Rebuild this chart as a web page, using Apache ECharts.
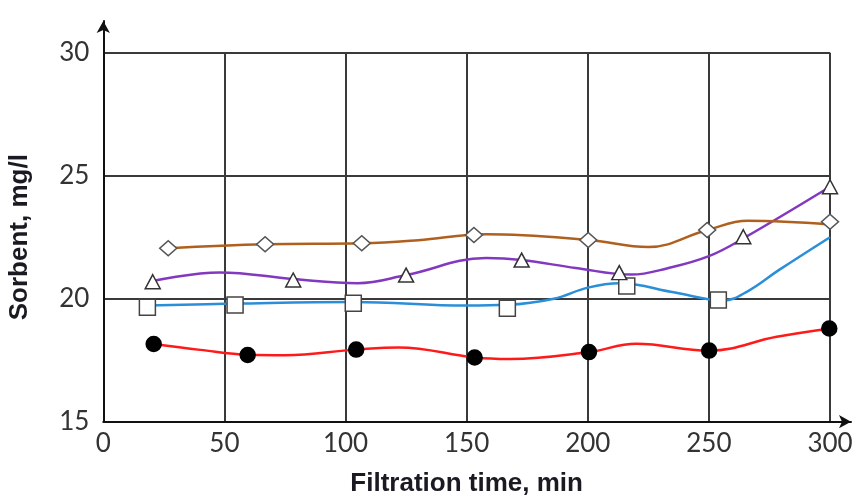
<!DOCTYPE html>
<html><head><meta charset="utf-8">
<script src="https://cdn.jsdelivr.net/npm/echarts@6/dist/echarts.min.js"></script>
<style>html,body{margin:0;padding:0;background:#fff}#c{width:857px;height:497px}</style>
</head><body><div id="c"></div>
<script>
// Measured markers
const circleX = [20.8, 59.6, 104.4, 153.3, 200.5, 250.1, 299.7];
const circleY = [18.16, 17.71, 17.93, 17.61, 17.83, 17.89, 18.79];
const squareX = [18.2, 54.4, 103.2, 166.8, 216.1, 253.9, 300.7];
const squareY = [19.65, 19.74, 19.81, 19.61, 20.52, 19.95, 22.59];
const triangleX = [20.4, 78.4, 125, 172.7, 213, 264.2, 300];
const triangleY = [20.69, 20.76, 20.96, 21.57, 21.06, 22.52, 24.55];
const diamondX = [26.8, 66.8, 106.7, 153.0, 200.2, 249.3, 300];
const diamondY = [22.05, 22.21, 22.25, 22.59, 22.39, 22.79, 23.13];
// Fitted curves
const redCurveX = [20.8, 40, 60, 75, 104.4, 122, 153.3, 168, 200.5, 220, 250, 278, 300];
const redCurveY = [18.16, 17.92, 17.72, 17.7, 17.93, 18.02, 17.61, 17.55, 17.83, 18.17, 17.89, 18.45, 18.79];
const blueCurveX = [18.2, 54.4, 103.2, 150, 166.8, 186, 200, 213, 236, 256, 266, 279, 300];
const blueCurveY = [19.72, 19.8, 19.87, 19.72, 19.75, 20.0, 20.45, 20.63, 20.25, 19.93, 20.3, 21.17, 22.5];
const purpleCurveX = [20.4, 48, 78.4, 105, 125, 158, 172.7, 195, 218, 233, 250, 264.2, 300];
const purpleCurveY = [20.72, 21.07, 20.8, 20.63, 20.96, 21.65, 21.57, 21.25, 20.98, 21.24, 21.73, 22.45, 24.55];
const brownCurveX = [26.8, 67, 107, 130, 158, 200.2, 225, 249.3, 266, 300];
const brownCurveY = [22.05, 22.21, 22.25, 22.38, 22.62, 22.39, 22.1, 22.79, 23.17, 23.02];
const xTicks = [0, 50, 100, 150, 200, 250, 300];
const yTicks = [15, 20, 25, 30];
const xTitle = 'Filtration time, min';
const yTitle = 'Sorbent, mg/l';

const zip = (a, b) => a.map((v, i) => [v, b[i]]);
const curve = (xs, ys, color) => ({
  type: 'line', xAxisIndex: 0, yAxisIndex: 0, smooth: 0.4, showSymbol: false, silent: true,
  data: zip(xs, ys), lineStyle: { color: color, width: 2.5 }, z: 3
});
const marks = (xs, ys, symbol, size, fill, border) => ({
  type: 'scatter', xAxisIndex: 0, yAxisIndex: 0, symbol: symbol, symbolSize: size,
  data: zip(xs, ys), itemStyle: { color: fill, borderColor: border, borderWidth: 1.5, opacity: 1 }, z: 5
});

const chart = echarts.init(document.getElementById('c'), null, { renderer: 'canvas' });
chart.setOption({
  animation: false,
  backgroundColor: '#fff',
  grid: [
    { left: 103.3, right: 27, top: 52.7, bottom: 75.3, containLabel: false, outerBoundsMode: 'none' },
    { left: 103.3, right: 6, top: 21, bottom: 75.3, containLabel: false, outerBoundsMode: 'none' }
  ],
  xAxis: [
    { type: 'value', gridIndex: 0, min: xTicks[0], max: xTicks[xTicks.length - 1], interval: 50,
      axisLine: { show: false }, axisTick: { show: false },
      axisLabel: { fontSize: 26, color: '#333', fontFamily: 'Lato', margin: 9 },
      splitLine: { show: true, lineStyle: { color: '#3a3a3a', width: 2 } },
      name: xTitle, nameLocation: 'middle', nameGap: 49,
      nameTextStyle: { fontSize: 26, fontWeight: 'bold', color: '#1a1a22', fontFamily: 'Liberation Sans' } },
    { type: 'value', gridIndex: 1, min: 0, max: 1, axisLabel: { show: false }, axisTick: { show: false },
      splitLine: { show: false },
      axisLine: { show: true, onZero: false, symbol: ['none', 'arrow'], symbolSize: [10, 12],
        lineStyle: { color: '#111', width: 2 } } }
  ],
  yAxis: [
    { type: 'value', gridIndex: 0, min: yTicks[0], max: yTicks[yTicks.length - 1], interval: 5,
      axisLine: { show: false }, axisTick: { show: false },
      axisLabel: { fontSize: 26, color: '#333', fontFamily: 'Lato', margin: 14 },
      splitLine: { show: true, lineStyle: { color: '#3a3a3a', width: 2 } },
      name: yTitle, nameLocation: 'middle', nameGap: 70, nameRotate: 90,
      nameTextStyle: { fontSize: 26, fontWeight: 'bold', color: '#1a1a22', fontFamily: 'Liberation Sans' } },
    { type: 'value', gridIndex: 1, min: 0, max: 1, axisLabel: { show: false }, axisTick: { show: false },
      splitLine: { show: false },
      axisLine: { show: true, onZero: false, symbol: ['none', 'arrow'], symbolSize: [10, 12],
        lineStyle: { color: '#111', width: 2 } } }
  ],
  series: [
    curve(redCurveX, redCurveY, '#ff1a1a'),
    curve(blueCurveX, blueCurveY, '#2a8fd8'),
    curve(purpleCurveX, purpleCurveY, '#8338c0'),
    curve(brownCurveX, brownCurveY, '#b0601e'),
    marks(circleX, circleY, 'circle', 15, '#000', '#000'),
    marks(squareX, squareY, 'rect', 16, '#fff', '#444'),
    marks(triangleX, triangleY, 'triangle', [15, 14], '#fff', '#333'),
    marks(diamondX, diamondY, 'diamond', [17, 15], '#fff', '#555')
  ]
});
</script></body></html>
